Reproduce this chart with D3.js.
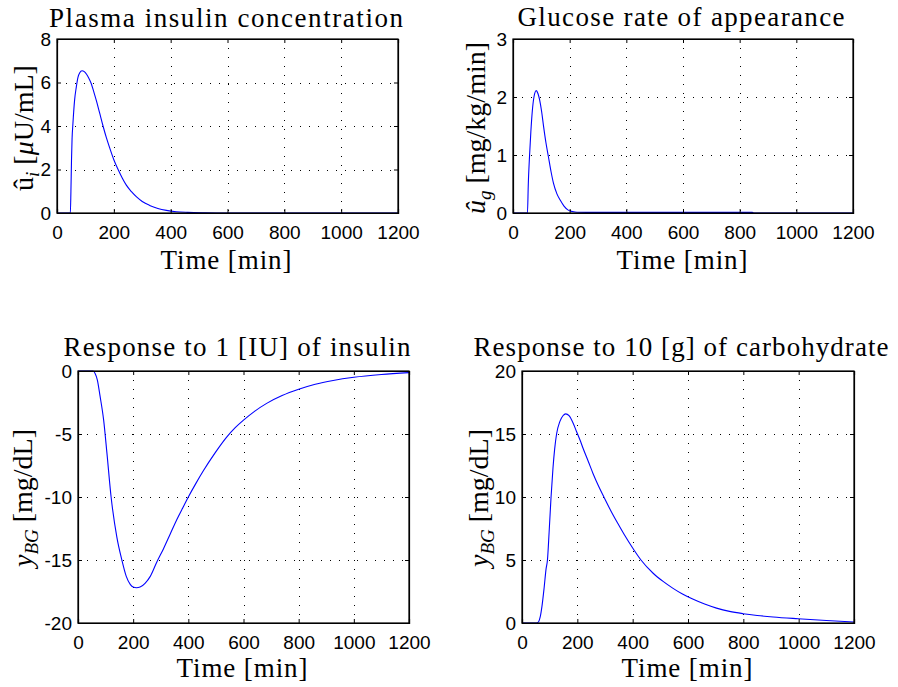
<!DOCTYPE html>
<html>
<head>
<meta charset="utf-8">
<script src="https://cdn.jsdelivr.net/npm/d3@7"></script>
<style>
  html, body { margin: 0; padding: 0; background: #fff; }
  svg { display: block; }
</style>
</head>
<body>
<svg id="chart" width="898" height="687"></svg>
<script>
var serifFont = "'Liberation Serif', 'DejaVu Serif', serif";
var sansFont = "'Liberation Sans', Arial, sans-serif";

// time axis shared by all panels
var timeTicks = [0, 200, 400, 600, 800, 1000, 1200];

// plasma insulin concentration (uU/mL)
var insulinTime = [0, 47, 49, 51, 53, 56, 62, 68, 74, 80, 88, 96, 104, 112, 119, 130, 140, 150, 162, 174, 186, 200, 215, 230, 244, 262, 280, 300, 326, 355, 385, 420, 460, 520, 600, 1200];
var insulinConc = [0, 0, 1.0, 2.4, 3.4, 4.1, 5.2, 5.8, 6.25, 6.45, 6.54, 6.5, 6.38, 6.2, 6.0, 5.55, 5.1, 4.6, 4.0, 3.45, 2.97, 2.45, 2.0, 1.6, 1.28, 0.98, 0.74, 0.53, 0.35, 0.21, 0.12, 0.06, 0.03, 0.01, 0, 0];
var insulinTicks = [0, 2, 4, 6, 8];

// glucose rate of appearance (mg/kg/min)
var glucoseTime = [0, 51, 54, 58, 63, 68, 74, 82, 88, 94, 101, 108, 116, 125, 134, 143, 155, 167, 180, 195, 210, 226, 260, 845, 850, 1200];
var glucoseRate = [0, 0, 0.5, 0.95, 1.4, 1.75, 2.0, 2.11, 2.06, 1.95, 1.75, 1.49, 1.22, 0.97, 0.72, 0.51, 0.33, 0.22, 0.12, 0.05, 0.025, 0.012, 0.01, 0.01, 0, 0];
var glucoseTicks = [0, 1, 2, 3];

// BG response to 1 IU of insulin (mg/dL)
var respInsTime = [0, 55, 62, 70, 80, 93, 105, 120, 141, 159, 175, 190, 200, 212, 225, 243, 262, 285, 310, 334, 358, 380, 400, 428, 455, 497, 539, 570, 600, 640, 684, 740, 800, 860, 925, 1000, 1100, 1200];
var respInsBG = [0, 0, -0.2, -0.7, -2.0, -3.9, -6.54, -10.0, -13.2, -15.0, -16.3, -16.95, -17.15, -17.2, -17.15, -16.85, -16.3, -15.2, -14.1, -12.95, -11.8, -10.85, -10.0, -8.9, -7.9, -6.5, -5.25, -4.5, -3.9, -3.2, -2.57, -1.95, -1.45, -1.05, -0.75, -0.5, -0.28, -0.13];
var respInsTicks = [-20, -15, -10, -5, 0];

// BG response to 10 g of carbohydrate (mg/dL)
var respCarbTime = [0, 53, 60, 66, 72, 80, 87, 92, 98, 105, 112, 118, 125, 137, 148, 158, 170, 185, 197, 210, 221, 240, 257, 277, 297, 320, 345, 370, 400, 430, 474, 510, 546, 580, 619, 660, 703, 750, 799, 850, 908, 998, 1100, 1200];
var respCarbBG = [0, 0, 0.1, 0.5, 1.3, 2.8, 4.3, 5.0, 7.2, 10.0, 12.3, 13.8, 15.0, 16.0, 16.45, 16.6, 16.45, 15.85, 15.2, 14.5, 13.85, 12.8, 11.85, 10.85, 9.95, 8.95, 7.95, 7.0, 5.95, 5.0, 3.95, 3.3, 2.75, 2.3, 1.88, 1.5, 1.18, 0.92, 0.74, 0.6, 0.48, 0.34, 0.2, 0.08];
var respCarbTicks = [0, 5, 10, 15, 20];

var panels = [
  { x: insulinTime, y: insulinConc, yDomain: [0, 8], yTicks: insulinTicks,
    box: [57, 398, 39, 213], title: "Plasma insulin concentration", titleX: 226, titleY: 27, titleW: 354,
    xlab: [226, 269], ylab: { x: 33, y: 128, parts: [["û", ""], ["i", "sub"], [" [", ""], ["μ", "it"], ["U/mL]", ""]] } },
  { x: glucoseTime, y: glucoseRate, yDomain: [0, 3], yTicks: glucoseTicks,
    box: [513, 853, 39, 213], title: "Glucose rate of appearance", titleX: 681, titleY: 26, titleW: 327,
    xlab: [682, 269], ylab: { x: 485, y: 128, parts: [["û", "it"], ["g", "sub"], ["  [mg/kg/min]", ""]] } },
  { x: respInsTime, y: respInsBG, yDomain: [-20, 0], yTicks: respInsTicks,
    box: [78, 409, 371, 623], title: "Response to 1 [IU] of insulin", titleX: 237, titleY: 356, titleW: 347,
    xlab: [242, 677], ylab: { x: 32, y: 498, parts: [["y", "it"], ["BG", "sub"], ["  [mg/dL]", ""]] } },
  { x: respCarbTime, y: respCarbBG, yDomain: [0, 20], yTicks: respCarbTicks,
    box: [522, 854, 371, 623], title: "Response to 10 [g] of carbohydrate", titleX: 681, titleY: 356, titleW: 415,
    xlab: [687, 677], ylab: { x: 488, y: 498, parts: [["y", "it"], ["BG", "sub"], ["  [mg/dL]", ""]] } }
];

var svg = d3.select("#chart");

panels.forEach(function(p) {
  var x = d3.scaleLinear().domain([0, 1200]).range([p.box[0], p.box[1]]);
  var y = d3.scaleLinear().domain(p.yDomain).range([p.box[3], p.box[2]]);
  var g = svg.append("g");

  // dotted grid
  g.append("g").selectAll("line")
    .data(timeTicks.slice(1, -1)).enter().append("line")
    .attr("x1", d => Math.round(x(d)) + 0.5).attr("x2", d => Math.round(x(d)) + 0.5)
    .attr("y1", p.box[2]).attr("y2", p.box[3])
    .attr("stroke", "#000").attr("stroke-dasharray", "1,8").attr("shape-rendering", "crispEdges");
  g.append("g").selectAll("line")
    .data(p.yTicks.slice(1, -1)).enter().append("line")
    .attr("y1", d => Math.round(y(d)) + 0.5).attr("y2", d => Math.round(y(d)) + 0.5)
    .attr("x1", p.box[0]).attr("x2", p.box[1])
    .attr("stroke", "#000").attr("stroke-dasharray", "1,8").attr("shape-rendering", "crispEdges");

  // data line
  var line = d3.line()
    .x((d, i) => x(p.x[i]))
    .y(d => y(d))
    .curve(d3.curveMonotoneX);
  g.append("path").datum(p.y)
    .attr("d", line)
    .attr("fill", "none").attr("stroke", "#0000ff").attr("stroke-width", 1.1);

  // axes, ticks pointing inward like matlab
  var axes = g.append("g");
  axes.append("g").attr("transform", "translate(0," + p.box[3] + ")")
    .call(d3.axisBottom(x).tickValues(timeTicks).tickSize(-4).tickPadding(13).tickFormat(d3.format("d")));
  axes.append("g").attr("transform", "translate(0," + p.box[2] + ")")
    .call(d3.axisTop(x).tickValues(timeTicks).tickSize(-4).tickFormat(""));
  axes.append("g").attr("transform", "translate(" + p.box[0] + ",0)")
    .call(d3.axisLeft(y).tickValues(p.yTicks).tickSize(-4).tickPadding(6).tickFormat(d3.format("d")));
  axes.append("g").attr("transform", "translate(" + p.box[1] + ",0)")
    .call(d3.axisRight(y).tickValues(p.yTicks).tickSize(-4).tickFormat(""));
  axes.selectAll("g").attr("font-family", sansFont).attr("font-size", 19);
  axes.selectAll(".domain").attr("stroke", "#000").attr("stroke-width", 1.2);
  axes.selectAll(".tick line").attr("stroke", "#000");
  axes.selectAll(".tick text").attr("fill", "#000")
    .text(function() { return this.textContent.replace("\u2212", "-"); });

  // box outline
  g.append("rect")
    .attr("x", p.box[0]).attr("y", p.box[2])
    .attr("width", p.box[1] - p.box[0]).attr("height", p.box[3] - p.box[2])
    .attr("fill", "none").attr("stroke", "#000").attr("stroke-width", 1.2);

  // title and axis labels
  g.append("text")
    .attr("font-family", serifFont).attr("font-size", 27)
    .attr("x", p.titleX).attr("y", p.titleY)
    .attr("text-anchor", "middle")
    .attr("textLength", p.titleW)
    .text(p.title);
  g.append("text")
    .attr("font-family", serifFont).attr("font-size", 27)
    .attr("x", p.xlab[0]).attr("y", p.xlab[1])
    .attr("text-anchor", "middle")
    .attr("textLength", 131)
    .text("Time [min]");

  var yl = g.append("text")
    .attr("font-family", serifFont).attr("font-size", 28)
    .attr("text-anchor", "middle")
    .attr("transform", "translate(" + p.ylab.x + "," + p.ylab.y + ") rotate(-90)");
  var shifted = false;
  p.ylab.parts.forEach(function(part) {
    var t = yl.append("tspan").text(part[0]);
    if (part[1] === "sub") {
      t.attr("font-style", "italic").attr("font-size", 19).attr("dy", 6);
      shifted = true;
    } else {
      if (shifted) { t.attr("dy", -6); shifted = false; }
      if (part[1] === "it") t.attr("font-style", "italic");
    }
  });
});
</script>
</body>
</html>
